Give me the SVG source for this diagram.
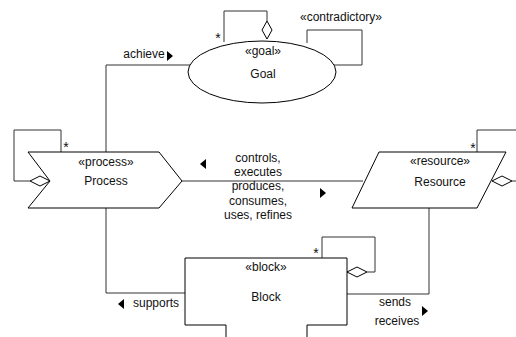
<svg xmlns="http://www.w3.org/2000/svg" width="516" height="337" viewBox="0 0 516 337">
<style>
.s{fill:#fff;stroke:#000;stroke-width:1}
.l{fill:none;stroke:#333;stroke-width:1}
.d{fill:#fff;stroke:#000;stroke-width:1}
.t{font-family:"Liberation Sans",Arial,sans-serif;font-size:12px;fill:#111;text-anchor:middle}
.a{fill:#000;stroke:none}
</style>
<rect width="516" height="337" fill="#fff"/>
<g id="connectors">
<polyline class="l" points="106,152 106,65 190,65"/>
<polyline class="l" points="106,208 106,293 185,293"/>
<line class="l" x1="182" y1="181" x2="363" y2="181"/>
<polyline class="l" points="429,208 429,294 347,294"/>
<polyline class="l" points="224,42 224,11 267,11 267,21"/>
<polygon class="d" points="267,21 272,30 267,39 262,30"/>
<polyline class="l" points="307,43 307,30 362,30 362,65 328,65"/>
<polyline class="l" points="61,152 61,130 14,130 14,181 30,181"/>
<polygon class="d" points="30,181 40,176 50,181 40,186"/>
<polyline class="l" points="477,152 477,130 516,130"/>
<polygon class="d" points="492,181 502,176 512,181 502,186"/>
<line class="l" x1="512" y1="181" x2="516" y2="181"/>
<polyline class="l" points="322,258 322,237 375,237 375,272 367,272"/>
<polygon class="d" points="347,272 357,267 367,272 357,277"/>
<text class="t" x="218" y="43" style="font-size:14px">*</text>
<text class="t" x="66" y="152" style="font-size:14px">*</text>
<text class="t" x="473" y="153" style="font-size:14px">*</text>
<text class="t" x="316" y="258" style="font-size:14px">*</text>
<text class="t" x="341" y="21">«contradictory»</text>
<text class="t" x="144" y="58">achieve</text>
<polygon class="a" points="167,51 173,56 167,61"/>
<text class="t" x="258" y="162">controls,</text>
<text class="t" x="258" y="176">executes</text>
<polygon class="a" points="206,159 200,164 206,169"/>
<text class="t" x="258" y="190">produces,</text>
<text class="t" x="258" y="205">consumes,</text>
<text class="t" x="258" y="219">uses, refines</text>
<polygon class="a" points="320,188 326,193 320,198"/>
<text class="t" x="156" y="307">supports</text>
<polygon class="a" points="124,299 118,304 124,309"/>
<text class="t" x="395" y="306">sends</text>
<text class="t" x="397" y="325">receives</text>
<polygon class="a" points="422,306 428,311 422,316"/>
</g>
<g id="goal">
<ellipse class="s" cx="262" cy="72" rx="74" ry="31"/>
<text class="t" x="263" y="55">«goal»</text>
<text class="t" x="263" y="78">Goal</text>
</g>
<g id="process">
<polygon class="s" points="28,152 159,152 182,181 159,208 28,208 50,181"/>
<text class="t" x="106" y="166">«process»</text>
<text class="t" x="106" y="185">Process</text>
</g>
<g id="resource">
<polygon class="s" points="379,152 506,152 477,208 352,208"/>
<text class="t" x="440" y="165">«resource»</text>
<text class="t" x="440" y="186">Resource</text>
</g>
<g id="block">
<polyline class="s" points="226,337 226,325 185,325 185,258 347,258 347,325 307,325 307,337"/>
<rect x="227" y="326" width="79" height="12" fill="#fff"/>
<text class="t" x="266" y="271">«block»</text>
<text class="t" x="266" y="301">Block</text>
</g>
</svg>
